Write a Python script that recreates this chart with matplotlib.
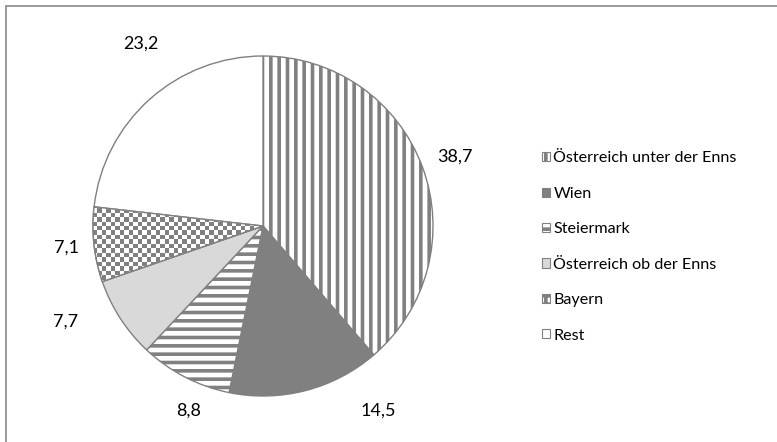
import matplotlib
matplotlib.use("Agg")
import matplotlib.pyplot as plt
import numpy as np
from matplotlib.patches import Patch, Wedge
from matplotlib.lines import Line2D
from matplotlib.colors import ListedColormap

categories = ["Österreich unter der Enns", "Wien", "Steiermark",
              "Österreich ob der Enns", "Bayern", "Rest"]
values = [38.7, 14.5, 8.8, 7.7, 7.1, 23.2]
value_labels = ["38,7", "14,5", "8,8", "7,7", "7,1", "23,2"]

# label layout (Excel "best fit" placement): angular shift (deg) and radius factor
label_shift = [-0.5, 17.4, 5.4, -7.0, 0.0, -7.8]
label_radius = [1.2, 1.28, 1.17, 1.29, 1.165, 1.29]

GRAY = "#808080"
plt.rcParams["font.family"] = ["Lato", "DejaVu Sans"]
plt.rcParams["hatch.linewidth"] = 2.6
plt.rcParams["hatch.color"] = GRAY

fig = plt.figure(figsize=(7.77, 4.42), dpi=100)
W, H = 777, 442
cx, cy, r = 263, 442 - 226, 170
half = 1.25 * r
ax = fig.add_axes([(cx - half) / W, (cy - half) / H, 2 * half / W, 2 * half / H])

faces = ["white", GRAY, "white", "#d9d9d9", "white", "white"]
hatches = ["||", None, "--", None, None, None]

wedges, _ = ax.pie(values, startangle=90, counterclock=False,
                   wedgeprops=dict(edgecolor=GRAY, linewidth=1.0))
for w, fc, h in zip(wedges, faces, hatches):
    w.set_facecolor(fc)
    w.set_edgecolor(GRAY)
    if h:
        w.set_hatch(h)

for w, lab, sh, rf in zip(wedges, value_labels, label_shift, label_radius):
    ang = np.deg2rad((w.theta1 + w.theta2) / 2 + sh)
    ax.text(rf * np.cos(ang), rf * np.sin(ang), lab, ha="center", va="center",
            fontsize=13, color="black")

ax.set_xlim(-1.25, 1.25)
ax.set_ylim(-1.25, 1.25)
ax.set_aspect("equal")

# checkerboard for Bayern
n = 76
ii, jj = np.meshgrid(np.arange(n), np.arange(n))
checker = ((ii + jj) % 2).astype(float)
cmap = ListedColormap(["white", GRAY])
bw = wedges[4]
im = ax.imshow(checker, cmap=cmap, extent=(-1.0, 1.0, -1.0, 1.0),
               interpolation="nearest", zorder=bw.get_zorder() + 0.1)
im.set_clip_path(bw)
edge = Wedge(bw.center, bw.r, bw.theta1, bw.theta2, facecolor="none",
             edgecolor=GRAY, linewidth=1.0, zorder=im.get_zorder() + 0.1)
ax.add_patch(edge)

# legend
handles = []
for fc, h in zip(faces, hatches):
    handles.append(Patch(facecolor=fc, edgecolor=GRAY, hatch=h, linewidth=0.8))
handles[4] = Patch(facecolor="white", edgecolor=GRAY, hatch="++", linewidth=0.8)
fig.legend(handles, categories, loc="center left",
           bbox_to_anchor=(542 / W, (442 - 247) / H), frameon=False,
           fontsize=11.6, handlelength=0.5, handleheight=0.5, handletextpad=0.2,
           labelspacing=1.33, borderpad=0, borderaxespad=0)

# outer border (top and left visible)
fig.add_artist(Line2D([6 / W, 1.0], [1 - 6 / H, 1 - 6 / H], transform=fig.transFigure,
                      color="#999999", linewidth=1.4))
fig.add_artist(Line2D([6 / W, 6 / W], [0.0, 1 - 6 / H], transform=fig.transFigure,
                      color="#999999", linewidth=1.4))

fig.savefig("out.png", dpi=100)
